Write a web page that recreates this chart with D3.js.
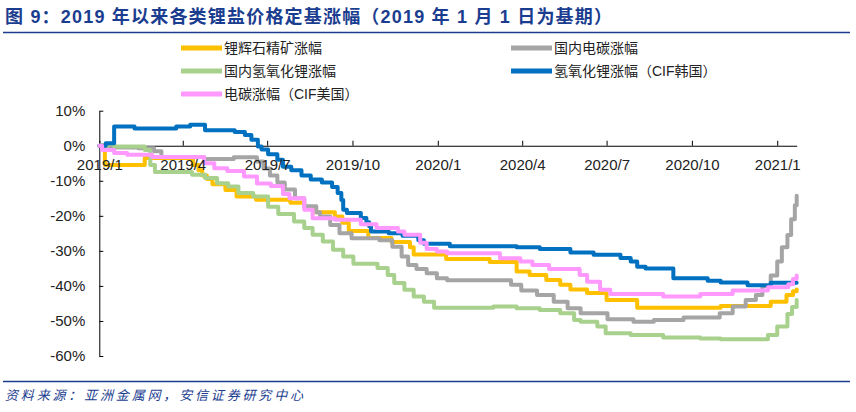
<!DOCTYPE html>
<html><head><meta charset="utf-8">
<script src="https://cdn.jsdelivr.net/npm/d3@7"></script>
<style>
html,body{margin:0;padding:0;background:#fff;}
svg{display:block;}
</style></head>
<body>
<svg id="chart" width="856" height="412"></svg>
<script>
const titleText = "图 9：2019 年以来各类锂盐价格定基涨幅（2019 年 1 月 1 日为基期）";
const sourceText = "资料来源：亚洲金属网，安信证券研究中心";

const seriesNames = ["锂辉石精矿涨幅", "国内电碳涨幅", "国内氢氧化锂涨幅", "氢氧化锂涨幅（CIF韩国）", "电碳涨幅（CIF美国）"];
const seriesColors = ["#FFC000", "#A5A5A5", "#A9D18E", "#0070C0", "#FF99FF"];

const xTickDates = ["2019-01-01","2019-04-01","2019-07-01","2019-10-01","2020-01-01","2020-04-01","2020-07-01","2020-10-01","2021-01-01"];
const xTickLabels = ["2019/1","2019/4","2019/7","2019/10","2020/1","2020/4","2020/7","2020/10","2021/1"];
const yTickValues = [10, 0, -10, -20, -30, -40, -50, -60];

// 锂辉石精矿涨幅 (%)
const spodDates = ["2019-01-01","2019-01-07","2019-02-19","2019-04-12","2019-04-18","2019-04-22","2019-04-27","2019-05-03","2019-05-17","2019-05-29","2019-06-19","2019-07-26","2019-08-10","2019-08-21","2019-09-12","2019-09-20","2019-09-27","2019-10-18","2019-11-12","2019-12-02","2019-12-06","2020-01-10","2020-02-26","2020-03-26","2020-04-09","2020-04-27","2020-05-12","2020-05-23","2020-06-10","2020-07-01","2020-08-03","2020-11-01","2020-12-25","2021-01-11","2021-01-18","2021-01-22"];
const spodValues = [0,-5.5,-3.5,-5.5,-7,-8.5,-9.5,-11,-12.6,-14.5,-15.4,-16.3,-17.6,-19,-20.2,-22,-24.3,-26.3,-27.5,-29,-31,-32.3,-33.2,-35.9,-36.9,-38.3,-39.7,-41,-42,-44,-46.2,-45.7,-44.5,-42.6,-41.5,-41];

// 国内电碳涨幅 (%)
const carbDates = ["2019-01-01","2019-01-06","2019-02-12","2019-03-01","2019-03-09","2019-04-24","2019-05-26","2019-06-20","2019-06-27","2019-07-04","2019-07-12","2019-07-20","2019-07-31","2019-08-10","2019-08-23","2019-08-27","2019-09-07","2019-09-17","2019-09-30","2019-10-30","2019-11-13","2019-11-23","2019-11-30","2019-12-09","2019-12-20","2019-12-31","2020-01-11","2020-03-20","2020-03-31","2020-04-17","2020-05-05","2020-05-20","2020-06-03","2020-07-02","2020-07-30","2020-08-21","2020-09-22","2020-10-31","2020-11-14","2020-11-28","2020-12-09","2020-12-16","2020-12-25","2021-01-01","2021-01-06","2021-01-12","2021-01-16","2021-01-20","2021-01-22"];
const carbValues = [0,-0.5,-0.7,-1.6,-3.2,-3.8,-3.3,-4.5,-6.5,-8.5,-10.5,-12.5,-15,-17.3,-19,-20.2,-22.6,-25,-26.4,-27,-28.8,-31.6,-34,-35.2,-36.4,-37.8,-38.4,-39.7,-41.3,-42.6,-44.5,-46.4,-47.8,-49.5,-50.2,-49.7,-49,-47.8,-45.9,-44,-42.6,-40,-37,-33,-29,-25.5,-21,-17,-14.3];

// 国内氢氧化锂涨幅 (%)
const hydDates = ["2019-01-01","2019-01-10","2019-01-17","2019-02-19","2019-02-25","2019-03-02","2019-04-11","2019-04-25","2019-05-08","2019-05-20","2019-05-31","2019-06-16","2019-07-02","2019-07-13","2019-07-30","2019-08-10","2019-08-19","2019-08-30","2019-09-10","2019-09-21","2019-10-02","2019-10-28","2019-11-08","2019-11-15","2019-11-26","2019-12-06","2019-12-17","2019-12-28","2020-03-01","2020-03-26","2020-04-20","2020-05-12","2020-05-27","2020-06-03","2020-06-21","2020-06-30","2020-07-27","2020-08-31","2020-10-10","2020-11-01","2020-12-22","2021-01-01","2021-01-12","2021-01-17","2021-01-22"];
const hydValues = [0,0.5,-0.2,-1.2,-5.5,-7.5,-8.3,-9.2,-10.7,-11.6,-13.5,-14.5,-17.4,-19.5,-21.6,-23.5,-25.4,-27.3,-29.7,-31.6,-33.7,-34.9,-36.9,-39.2,-41.1,-43,-44.5,-46.2,-45.9,-46.4,-46.9,-47.8,-49.7,-50.2,-51.6,-53.5,-54,-54.7,-55,-55.2,-54,-51.6,-48,-46,-44];

// 氢氧化锂涨幅（CIF韩国） (%)
const cifHydDates = ["2019-01-01","2019-01-08","2019-01-17","2019-02-08","2019-03-25","2019-04-09","2019-04-25","2019-05-27","2019-06-07","2019-06-14","2019-06-21","2019-06-25","2019-07-02","2019-07-12","2019-07-18","2019-07-27","2019-08-07","2019-08-17","2019-08-29","2019-09-09","2019-09-15","2019-09-19","2019-09-21","2019-09-25","2019-10-10","2019-10-16","2019-10-19","2019-10-21","2019-11-09","2019-11-24","2019-12-11","2019-12-17","2020-01-14","2020-03-26","2020-04-20","2020-05-23","2020-06-17","2020-07-16","2020-07-27","2020-08-03","2020-08-12","2020-09-11","2020-10-18","2020-11-01","2020-11-30","2020-12-25","2021-01-22"];
const cifHydValues = [0,0.7,5.5,4.9,5.5,6.0,4.4,3.9,3.1,1.7,-0.2,-1.1,-2.4,-4.0,-6.0,-7.0,-8.5,-9.6,-10.5,-11.8,-13.5,-15.5,-18.3,-19.2,-20.6,-21.8,-23,-24.5,-25,-25.7,-27,-28,-28.7,-29,-29.5,-30.5,-31.1,-32,-33,-34.5,-35,-37.8,-38.5,-39,-39.8,-39.1,-39.1];

// 电碳涨幅（CIF美国） (%)
const cifCarbDates = ["2019-01-01","2019-01-04","2019-01-17","2019-01-31","2019-02-27","2019-04-24","2019-05-05","2019-05-19","2019-06-06","2019-06-20","2019-07-05","2019-07-18","2019-07-25","2019-08-10","2019-08-19","2019-09-12","2019-10-10","2019-10-27","2019-11-19","2019-11-26","2019-12-13","2019-12-20","2019-12-31","2020-01-11","2020-03-08","2020-03-30","2020-04-12","2020-04-30","2020-06-02","2020-06-10","2020-06-24","2020-07-05","2020-08-31","2020-10-10","2020-11-14","2020-12-22","2021-01-13","2021-01-18","2021-01-22"];
const cifCarbValues = [0,-1.2,-2.1,-2.6,-3.2,-5,-6.4,-7.2,-8.8,-10.8,-11.5,-13.8,-15,-18.3,-20.7,-21.1,-22.4,-23.5,-24.5,-25.4,-27.7,-29.5,-30.2,-30.7,-32.1,-33,-34,-35.2,-36.9,-38.8,-41.1,-42.3,-43,-42.3,-41.3,-40.4,-39.5,-38,-37];

const parse = d3.timeParse("%Y-%m-%d");
const seriesDates = [spodDates, carbDates, hydDates, cifHydDates, cifCarbDates];
const seriesValues = [spodValues, carbValues, hydValues, cifHydValues, cifCarbValues];
const series = seriesNames.map((name, i) => ({
  name, color: seriesColors[i],
  points: seriesDates[i].map((d, j) => ({date: parse(d), value: seriesValues[i][j]}))
}));

const svg = d3.select("#chart");
const blue = "#1B3D8F";
const cjk = "'Liberation Sans', Arial, 'Noto Sans CJK SC', sans-serif";

// title
svg.append("text")
  .attr("x", 5).attr("y", 23)
  .attr("font-family", cjk).attr("font-weight", "bold").attr("font-size", 18)
  .attr("fill", blue)
  .attr("textLength", 607).attr("lengthAdjust", "spacing")
  .text(titleText);
svg.append("line").attr("x1", 3).attr("x2", 850).attr("y1", 32.5).attr("y2", 32.5)
  .attr("stroke", blue).attr("stroke-width", 1.5);

// scales
const x = d3.scaleTime().domain([parse("2019-01-01"), parse("2021-01-22")]).range([99.3, 796.7]);
const y = d3.scaleLinear().domain([-60, 10]).range([356, 110.7]);

// axes (lines and ticks below the series)
const xAxis = d3.axisBottom(x)
  .tickValues(xTickDates.map(parse))
  .tickFormat((d, i) => xTickLabels[i])
  .tickSizeInner(-5).tickSizeOuter(0).tickPadding(14);
const gx = svg.append("g").attr("transform", `translate(0,${y(0)})`).call(xAxis);

const yAxis = d3.axisLeft(y)
  .tickValues(yTickValues)
  .tickFormat(d => d + "%")
  .tickSizeInner(-4).tickSizeOuter(0).tickPadding(14);
const gy = svg.append("g").attr("transform", `translate(${x.range()[0]},0)`).call(yAxis);

[gx, gy].forEach(g => {
  g.select(".domain").attr("stroke", "#000").attr("stroke-width", 1);
  g.selectAll(".tick line").attr("stroke", "#000");
  g.selectAll(".tick text").remove();
});

// lines
const line = d3.line().x(d => x(d.date)).y(d => y(d.value)).curve(d3.curveStepAfter);
svg.append("g").selectAll("path").data(series).join("path")
  .attr("d", d => line(d.points))
  .attr("fill", "none")
  .attr("stroke", d => d.color)
  .attr("stroke-width", 4)
  .attr("stroke-linejoin", "round")
  .attr("stroke-linecap", "round");

// tick labels drawn above the series
const gxl = svg.append("g").attr("transform", `translate(0,${y(0)})`).call(xAxis);
const gyl = svg.append("g").attr("transform", `translate(${x.range()[0]},0)`).call(yAxis);
[gxl, gyl].forEach(g => {
  g.select(".domain").remove();
  g.selectAll(".tick line").remove();
  g.selectAll(".tick text").attr("font-family", "'Liberation Sans', Arial, sans-serif")
    .attr("font-size", 15).attr("fill", "#222");
});

// legend
const legendPos = [[181, 48], [511, 48], [181, 71], [511, 71], [181, 94]];
const lg = svg.append("g").selectAll("g").data(series).join("g")
  .attr("transform", (d, i) => `translate(${legendPos[i][0]},${legendPos[i][1]})`);
lg.append("line").attr("x1", 0).attr("x2", 41).attr("y1", 0).attr("y2", 0)
  .attr("stroke", d => d.color).attr("stroke-width", 5);
lg.append("text").attr("x", 43).attr("y", 0).attr("dy", "0.36em")
  .attr("font-family", cjk).attr("font-size", 14).attr("fill", "#222")
  .text(d => d.name);

// footer
svg.append("line").attr("x1", 3).attr("x2", 850).attr("y1", 381.5).attr("y2", 381.5)
  .attr("stroke", blue).attr("stroke-width", 1.5);
svg.append("text")
  .attr("x", 5).attr("y", 400)
  .attr("font-family", "'Noto Sans CJK SC', sans-serif").attr("font-size", 13)
  .attr("font-style", "italic").attr("fill", blue)
  .attr("textLength", 298).attr("lengthAdjust", "spacing")
  .text(sourceText);
</script>
</body></html>
